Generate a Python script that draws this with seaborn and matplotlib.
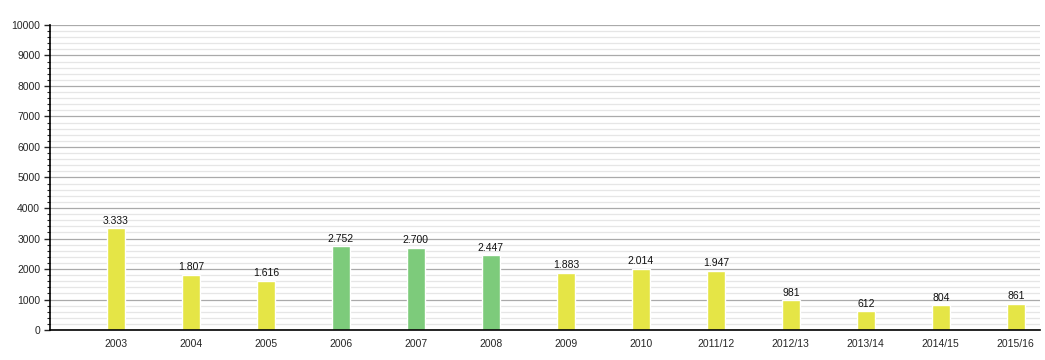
import matplotlib
matplotlib.use("Agg")
import matplotlib.pyplot as plt
from matplotlib.ticker import MultipleLocator
import seaborn as sns
import pandas as pd

# === Données ===
seasons = ['2003', '2004', '2005', '2006', '2007', '2008', '2009', '2010',
           '2011/12', '2012/13', '2013/14', '2014/15', '2015/16']
spectators = [3333, 1807, 1616, 2752, 2700, 2447, 1883, 2014, 1947, 981, 612, 804, 861]
league = ['low', 'low', 'low', 'high', 'high', 'high', 'low', 'low',
          'low', 'low', 'low', 'low', 'low']
labels = ['3.333', '1.807', '1.616', '2.752', '2.700', '2.447', '1.883', '2.014',
          '1.947', '981', '612', '804', '861']

df = pd.DataFrame({'season': seasons, 'value': spectators, 'league': league})

sns.set_style("white")
plt.rcParams['font.family'] = ['Liberation Sans', 'DejaVu Sans']

fig = plt.figure(figsize=(10.45, 3.6), dpi=100)
ax = fig.add_axes([0.0478, 0.0833, 0.9472, 0.8473])

palette = {'low': '#e5e546', 'high': '#7dcb7b'}
sns.barplot(data=df, x='season', y='value', hue='league', palette=palette,
            dodge=False, width=0.24, legend=False, ax=ax, saturation=1)

for i, (v, lab) in enumerate(zip(spectators, labels)):
    ax.text(i, v + 80, lab, ha='center', va='bottom', fontsize=7.5, color='#111111')

ax.set_ylim(0, 10000)
ax.set_xlim(-0.88, 12.32)
ax.yaxis.set_major_locator(MultipleLocator(1000))
ax.yaxis.set_minor_locator(MultipleLocator(200))
ax.grid(which='major', axis='y', color='#aaaaaa', linewidth=0.9)
ax.grid(which='minor', axis='y', color='#e6e6e6', linewidth=0.9)
ax.set_axisbelow(True)

for side in ['top', 'right']:
    ax.spines[side].set_visible(False)
ax.spines['left'].set_color('black')
ax.spines['bottom'].set_color('black')
ax.spines['left'].set_linewidth(1.2)
ax.spines['bottom'].set_linewidth(1.2)

ax.tick_params(axis='y', which='major', left=True, length=4, width=1, labelsize=7.5, pad=3)
ax.tick_params(axis='y', which='minor', left=True, length=2, width=0.8)
ax.tick_params(axis='x', bottom=False, labelsize=7.5, pad=3)
ax.set_xlabel('')
ax.set_ylabel('')

fig.savefig('out.png', dpi=100)
